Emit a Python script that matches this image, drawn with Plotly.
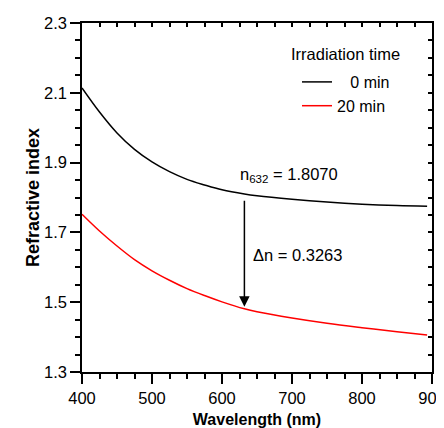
import plotly.graph_objects as go

wavelength = [400, 425, 450, 475, 500, 525, 550, 575, 600, 632, 650, 700, 750, 800, 850, 893]
n_0min = [2.114, 2.045, 1.985, 1.938, 1.902, 1.874, 1.852, 1.836, 1.822, 1.810, 1.805, 1.795, 1.787, 1.781, 1.777, 1.775]
n_20min = [1.752, 1.704, 1.661, 1.622, 1.590, 1.563, 1.539, 1.519, 1.501, 1.481, 1.4725, 1.4545, 1.4395, 1.427, 1.4155, 1.406]
series_names = ["\u00a0\u00a0 0 min", "20 min"]
series_colors = ["black", "red"]
legend_title = "Irradiation time"
x_ticks = [400, 500, 600, 700, 800, 900]
y_ticks = [1.3, 1.5, 1.7, 1.9, 2.1, 2.3]
n632 = 1.8070
delta_n = 0.3263
lam_mark = 632

FONT = "Liberation Sans, Arial, sans-serif"

fig = go.Figure()
for ys, name, col in zip([n_0min, n_20min], series_names, series_colors):
    fig.add_trace(go.Scatter(x=wavelength, y=ys, mode="lines", name=name,
                             line=dict(color=col, width=1.5, shape="spline", smoothing=1.0)))

axis_common = dict(showgrid=False, zeroline=False, showline=True, linecolor="black",
                   linewidth=1.5, ticks="outside", tickcolor="black", tickwidth=1.5,
                   ticklen=10, tickfont=dict(family=FONT, size=16.5, color="black"),
                   mirror=True, automargin=False, ticklabeloverflow="allow")

# page body has an 8px margin, so the figure is slightly smaller than the window
PL, PT, PW, PH = 82, 23, 350, 349  # plot area in screen pixels


def px_x(sx):
    return (sx - PL) / PW


def px_y(sy):
    return 1 - (sy - PT) / PH


fig.update_layout(
    width=436, height=420,
    margin=dict(l=74, r=12, t=15, b=56),
    plot_bgcolor="white", paper_bgcolor="white",
    font=dict(family=FONT, color="black"),
    xaxis=dict(range=[400, 900], tickvals=x_ticks, **axis_common,
               minor=dict(dtick=25, ticks="outside", ticklen=5, tickcolor="black", tickwidth=1.5),
               title=dict(text="<b>Wavelength (nm)</b>", font=dict(family=FONT, size=16), standoff=9)),
    yaxis=dict(range=[1.3, 2.3], tickvals=y_ticks, tickformat=".1f", **axis_common,
               minor=dict(dtick=0.05, ticks="outside", ticklen=5, tickcolor="black", tickwidth=1.5),
               title=dict(text="<b>Refractive index</b>", font=dict(family=FONT, size=18), standoff=0)),
    xaxis2=dict(range=[400, 900], overlaying="x", side="top", showticklabels=False,
                showgrid=False, zeroline=False, ticks="inside", ticklen=4, tickwidth=1.5,
                tickcolor="black", dtick=25, tick0=400, automargin=False),
    yaxis2=dict(range=[1.3, 2.3], overlaying="y", side="right", showticklabels=False,
                showgrid=False, zeroline=False, ticks="inside", ticklen=4, tickwidth=1.5,
                tickcolor="black", dtick=0.05, tick0=1.3, automargin=False),
    legend=dict(x=px_x(297), y=px_y(65), xanchor="left", yanchor="top",
                bgcolor="rgba(0,0,0,0)",
                font=dict(family=FONT, size=16), tracegroupgap=0),
    showlegend=True,
)
# dummy trace to activate overlay axes
fig.add_trace(go.Scatter(x=[None], y=[None], xaxis="x2", yaxis="y2", showlegend=False))

fig.add_annotation(x=px_x(289), y=px_y(54), xref="paper", yref="paper", text=legend_title,
                   showarrow=False, xanchor="left", yanchor="middle",
                   font=dict(family=FONT, size=16.5, color="black"))
fig.add_annotation(x=lam_mark, y=1.487, ax=lam_mark, ay=1.795,
                   xref="x", yref="y", axref="x", ayref="y", showarrow=True,
                   arrowhead=2, arrowsize=1.4, arrowwidth=1.5, arrowcolor="black", text="")
fig.add_annotation(x=623, y=1.865, xref="x", yref="y",
                   text=f"n<sub>{lam_mark}</sub> = {n632:.4f}", showarrow=False,
                   xanchor="left", yanchor="middle",
                   font=dict(family=FONT, size=16.5, color="black"))
fig.add_annotation(x=641, y=1.635, xref="x", yref="y",
                   text=f"\u0394n = {delta_n:.4f}", showarrow=False,
                   xanchor="left", yanchor="middle",
                   font=dict(family=FONT, size=16.5, color="black"))

fig.write_html("out.html")
